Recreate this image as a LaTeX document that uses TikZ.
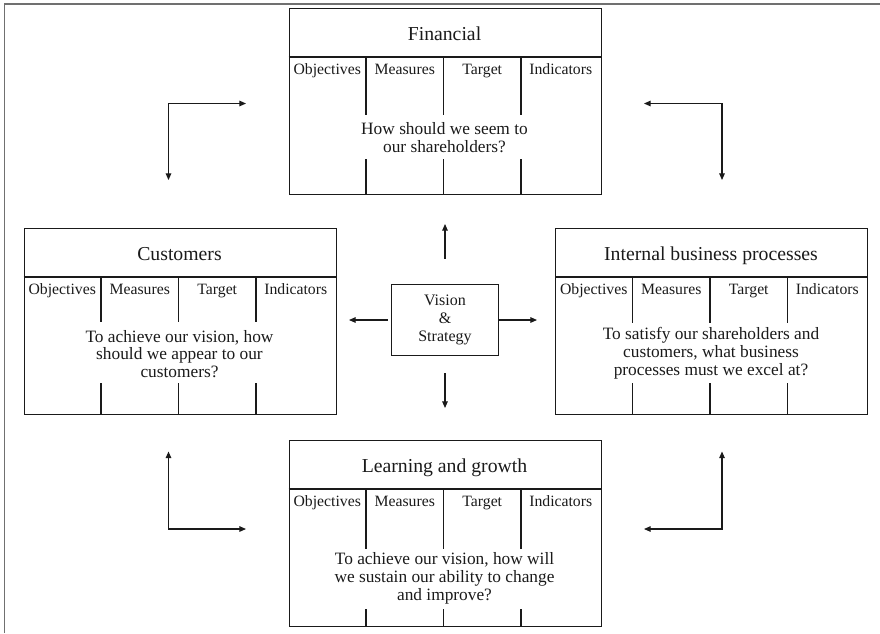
\documentclass[tikz,border=0pt]{standalone}
\usepackage{fontspec}
\setmainfont{Liberation Serif}
\usetikzlibrary{arrows.meta}

\definecolor{ink}{HTML}{1A1A1A}
\definecolor{framegray}{HTML}{707070}

\tikzset{
  cardframe/.style={draw=ink, line width=0.9pt, inner sep=0pt,
    minimum width=234pt, minimum height=139.9pt},
  cardrule/.style={draw=ink, line width=0.9pt},
  titletext/.style={anchor=base, inner sep=0pt, text=ink,
    font=\fontsize{14.8}{17}\selectfont},
  coltext/.style={anchor=base, inner sep=0pt, text=ink,
    font=\fontsize{11.8}{14}\selectfont},
  qtext/.style={align=center, inner sep=0pt, text=ink,
    font=\fontsize{13}{13.4}\selectfont},
  hubbox/.style={draw=ink, line width=0.9pt, inner sep=0pt,
    minimum width=80pt, minimum height=53.5pt, align=center, text=ink,
    font=\fontsize{12}{13.5}\selectfont},
  link/.style={draw=ink, line width=0.8pt,
    -{Triangle[length=5pt,width=4.2pt]}},
  looplink/.style={draw=ink, line width=0.8pt,
    {Triangle[length=5pt,width=4.2pt]}-{Triangle[length=5pt,width=4.2pt]}},
  outerframe/.style={draw=framegray, line width=1pt},
}

% One scorecard perspective:
% #1 name, #2 left, #3 top, #4 title, #5 question,
% #6/#7 where the column rules break around the question, #8 question centre
\newcommand{\bsccard}[8]{%
  \node[cardframe, anchor=north west] (#1) at (#2,#3) {};
  \draw[cardrule] (#2,#3+49.5) -- (#2+312,#3+49.5);
  \foreach \dx in {77.5,155,232.5}{
    \draw[cardrule] (#2+\dx,#3+49.5) -- (#2+\dx,#3+#6);
    \draw[cardrule] (#2+\dx,#3+#7) -- (#2+\dx,#3+186.5);
  }
  \node[titletext] (#1-title) at (#2+156,#3+32.5) {#4};
  \node[coltext] (#1-obj) at (#2+38.75,#3+66.5) {Objectives};
  \node[coltext] (#1-mea) at (#2+116.25,#3+66.5) {Measures};
  \node[coltext] (#1-tar) at (#2+193.75,#3+66.5) {Target};
  \node[coltext] (#1-ind) at (#2+272.25,#3+66.5) {Indicators};
  \node[qtext] (#1-q) at (#2+156,#3+#8) {#5};
}

\begin{document}
\begin{tikzpicture}[x=0.75pt, y=-0.75pt]
  \useasboundingbox (0,0) rectangle (880,633);

  % page frame (top and left edges)
  \draw[outerframe] (4.3,633) -- (4.3,4) -- (880,4);

  % the four perspectives
  \bsccard{fin}{288.5}{7.5}{Financial}
    {How should we seem to\\our shareholders?}{107.5}{151.5}{130.5}
  \bsccard{cus}{23.5}{227.5}{Customers}
    {To achieve our vision, how\\should we appear to our\\customers?}{94.2}{155.8}{126.5}
  \bsccard{ibp}{555}{227.5}{Internal business processes}
    {To satisfy our shareholders and\\customers, what business\\processes must we excel at?}{95.2}{155.8}{125.8}
  \bsccard{lrn}{288.5}{439.5}{Learning and growth}
    {To achieve our vision, how will\\we sustain our ability to change\\and improve?}{109.8}{169.8}{138.5}

  % vision and strategy at the centre
  \node[hubbox] (vis) at (445,320) {Vision\\\&\\Strategy};

  \coordinate (vis-up)    at (445,224);
  \coordinate (vis-down)  at (445,408);
  \coordinate (vis-left)  at (349,320);
  \coordinate (vis-right) at (537,320);
  \draw[link] ([yshift=18.75pt]vis.north) -- (vis-up);
  \draw[link] ([yshift=-12.75pt]vis.south) -- (vis-down);
  \draw[link] ([xshift=-2.5pt]vis.west) -- (vis-left);
  \draw[link] (vis.east) -- (vis-right);

  % feedback loops between neighbouring perspectives
  \coordinate (tl-c) at (168.5,103.5);
  \coordinate (tl-a) at (168.5,180);
  \coordinate (tl-b) at (246,103.5);
  \coordinate (tr-c) at (722,103.5);
  \coordinate (tr-a) at (644,103.5);
  \coordinate (tr-b) at (722,180);
  \coordinate (bl-c) at (168.5,529);
  \coordinate (bl-a) at (168.5,451.5);
  \coordinate (bl-b) at (246,529);
  \coordinate (br-c) at (722,529);
  \coordinate (br-a) at (722,451.5);
  \coordinate (br-b) at (644,529);

  \draw[looplink] (tl-a) -- (tl-c) -- (tl-b);
  \draw[looplink] (tr-a) -- (tr-c) -- (tr-b);
  \draw[looplink] (bl-a) -- (bl-c) -- (bl-b);
  \draw[looplink] (br-a) -- (br-c) -- (br-b);
\end{tikzpicture}
\end{document}
